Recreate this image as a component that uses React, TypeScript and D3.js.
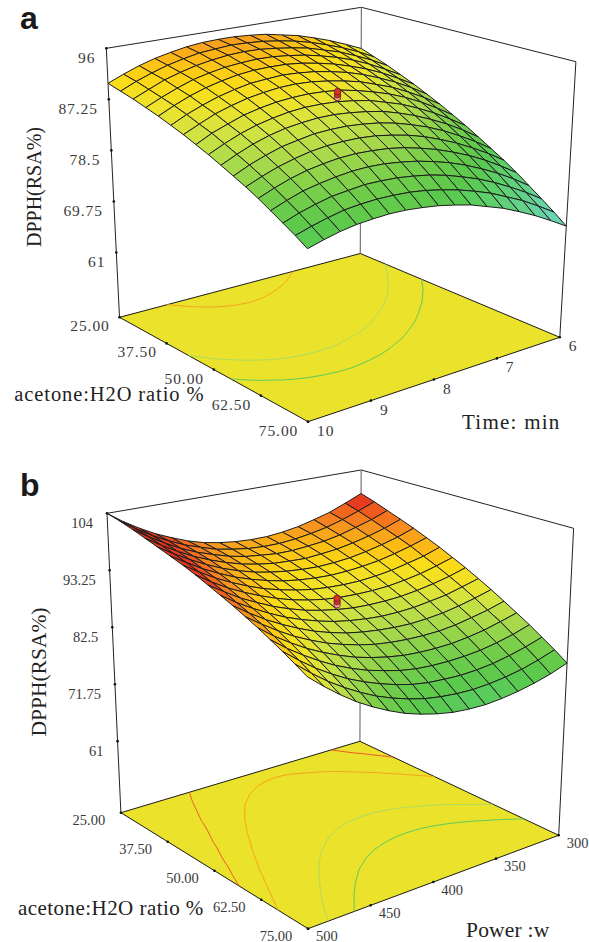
import React from 'react';
import * as d3 from 'd3';

// response surface a: rows are acetone 25..75, columns are time 6..10
const surfaceA = [
  [88.3,89.6,90.8,91.8,92.7,93.3,93.9,94.2,94.4,94.4,94.3,94.0,93.5,92.9,92.1,91.1,90.0],
  [87.4,88.8,90.0,91.0,91.9,92.6,93.1,93.5,93.7,93.8,93.6,93.4,92.9,92.3,91.5,90.6,89.5],
  [86.5,87.9,89.1,90.2,91.0,91.8,92.3,92.7,93.0,93.1,93.0,92.7,92.3,91.7,91.0,90.0,89.0],
  [85.5,86.9,88.2,89.3,90.2,90.9,91.5,91.9,92.2,92.3,92.2,92.0,91.6,91.1,90.3,89.4,88.4],
  [84.5,85.9,87.2,88.3,89.2,90.0,90.6,91.1,91.4,91.5,91.5,91.3,90.9,90.4,89.7,88.8,87.8],
  [83.4,84.9,86.2,87.3,88.3,89.1,89.7,90.2,90.5,90.7,90.6,90.5,90.1,89.6,88.9,88.1,87.1],
  [82.3,83.8,85.1,86.3,87.2,88.1,88.7,89.2,89.6,89.8,89.8,89.6,89.3,88.8,88.2,87.3,86.4],
  [81.1,82.6,84.0,85.2,86.2,87.0,87.7,88.3,88.6,88.8,88.8,88.7,88.4,88.0,87.3,86.6,85.6],
  [79.9,81.4,82.8,84.0,85.1,85.9,86.7,87.2,87.6,87.8,87.9,87.8,87.5,87.1,86.5,85.7,84.8],
  [78.6,80.2,81.6,82.8,83.9,84.8,85.6,86.1,86.5,86.8,86.9,86.8,86.6,86.2,85.6,84.8,83.9],
  [77.3,78.9,80.3,81.6,82.7,83.6,84.4,85.0,85.4,85.7,85.8,85.8,85.5,85.2,84.6,83.9,83.0],
  [76.0,77.6,79.0,80.3,81.4,82.4,83.2,83.8,84.3,84.6,84.7,84.7,84.5,84.1,83.6,82.9,82.1],
  [74.6,76.2,77.7,79.0,80.1,81.1,81.9,82.6,83.1,83.4,83.6,83.6,83.4,83.1,82.6,81.9,81.1],
  [73.1,74.8,76.3,77.6,78.8,79.8,80.6,81.3,81.8,82.2,82.4,82.4,82.2,81.9,81.5,80.8,80.0],
  [71.6,73.3,74.8,76.2,77.4,78.4,79.3,80.0,80.5,80.9,81.1,81.2,81.0,80.8,80.3,79.7,78.9],
  [70.1,71.8,73.4,74.7,76.0,77.0,77.9,78.6,79.2,79.6,79.8,79.9,79.8,79.6,79.1,78.5,77.8],
  [68.5,70.2,71.8,73.2,74.5,75.5,76.5,77.2,77.8,78.2,78.5,78.6,78.5,78.3,77.9,77.3,76.6],
];

// response surface b: rows are acetone 25..75, columns are power 300..500
const surfaceB = [
  [99.1,97.7,96.4,95.5,94.7,94.2,93.9,93.9,94.1,94.5,95.1,96.0,97.2,98.5,100.1,101.9,104.0],
  [98.2,96.8,95.6,94.6,93.9,93.4,93.1,93.1,93.3,93.8,94.4,95.4,96.5,97.9,99.5,101.4,103.5],
  [97.2,95.8,94.7,93.7,93.0,92.6,92.3,92.3,92.6,93.0,93.7,94.7,95.8,97.2,98.9,100.8,102.9],
  [96.2,94.8,93.7,92.8,92.1,91.7,91.4,91.5,91.7,92.2,92.9,93.9,95.1,96.5,98.2,100.1,102.2],
  [95.2,93.8,92.7,91.8,91.1,90.7,90.5,90.6,90.9,91.4,92.1,93.1,94.3,95.8,97.5,99.4,101.5],
  [94.1,92.8,91.7,90.8,90.2,89.8,89.6,89.7,90.0,90.5,91.3,92.3,93.5,95.0,96.7,98.7,100.8],
  [93.0,91.6,90.6,89.7,89.1,88.7,88.6,88.7,89.0,89.6,90.4,91.4,92.7,94.2,95.9,97.9,100.1],
  [91.8,90.5,89.4,88.6,88.0,87.7,87.6,87.7,88.0,88.6,89.4,90.5,91.8,93.3,95.0,97.0,99.3],
  [90.6,89.3,88.3,87.5,86.9,86.6,86.5,86.6,87.0,87.6,88.4,89.5,90.8,92.4,94.1,96.2,98.4],
  [89.3,88.1,87.0,86.3,85.7,85.4,85.3,85.5,85.9,86.5,87.4,88.5,89.8,91.4,93.2,95.2,97.5],
  [88.0,86.8,85.8,85.0,84.5,84.2,84.2,84.4,84.8,85.4,86.3,87.4,88.8,90.4,92.2,94.3,96.6],
  [86.6,85.4,84.5,83.7,83.2,83.0,83.0,83.2,83.6,84.3,85.2,86.3,87.7,89.3,91.2,93.3,95.6],
  [85.2,84.1,83.1,82.4,81.9,81.7,81.7,81.9,82.4,83.1,84.0,85.2,86.6,88.2,90.1,92.2,94.6],
  [83.8,82.6,81.7,81.0,80.6,80.4,80.4,80.6,81.1,81.9,82.8,84.0,85.4,87.1,89.0,91.1,93.5],
  [82.3,81.2,80.3,79.6,79.2,79.0,79.1,79.3,79.8,80.6,81.6,82.8,84.2,85.9,87.8,90.0,92.4],
  [80.8,79.7,78.8,78.2,77.8,77.6,77.7,78.0,78.5,79.3,80.3,81.5,83.0,84.7,86.6,88.8,91.2],
  [79.2,78.1,77.3,76.7,76.3,76.1,76.2,76.5,77.1,77.9,78.9,80.2,81.7,83.4,85.4,87.6,90.0],
];

const ratioTicks = ['25.00', '37.50', '50.00', '62.50', '75.00'];
const timeTicks = ['6', '7', '8', '9', '10'];
const powerTicks = ['300', '350', '400', '450', '500'];
const zTicksA = ['61', '69.75', '78.5', '87.25', '96'];
const zTicksB = ['61', '71.75', '82.5', '93.25', '104'];

// design points, stacked replicates at the centre of each plot
const centerA = [88.3, 88.8, 89.3];
const centerB = [87.9, 88.5, 89.1];

const contourLevelsA = [83.5, 86.5, 93];
const contourLevelsB = [83.5, 87, 93, 96.5];

const colorStops = [68.5, 72, 76, 78, 81, 84, 86.5, 88.5, 90.5, 92.5, 94.5, 96.5, 98, 104];
const colorRange = ['#6ed9c6', '#66d29a', '#5ccf68', '#58c84c', '#74cd4a', '#a9d94c', '#d0e342', '#eee32c', '#fbdc18', '#fdbf14', '#f7981e', '#f26a1f', '#e63a20', '#d42a18'];
const surfaceColor = d3.scaleLinear<string>().domain(colorStops).range(colorRange);
const contourColor = d3.scaleThreshold<number, string>().domain([85, 90, 95]).range(['#5cca5e', '#a9dc62', '#f9a020', '#f0562a']);

const serif = '"Liberation Serif", "Times New Roman", serif';
const FLOOR_COLOR = '#ebe22c';
const SAG = 8; // the box is in perspective, its middle sits higher than the corners say

type Pt = [number, number];
type Box = { back: Pt; right: Pt; front: Pt; left: Pt };

const mix = (p: Pt, q: Pt, t: number): Pt => [p[0] + (q[0] - p[0]) * t, p[1] + (q[1] - p[1]) * t];

// position inside a four cornered box face; u runs along the ratio, v along the other factor
const onFace = (f: Box, u: number, v: number): Pt => mix(mix(f.back, f.right, u), mix(f.left, f.front, u), v);

const linePath = d3.line<Pt>();

// contour lines of the grid, with the parts d3 closes along the border removed
function contourArcs(grid: number[][], level: number): Pt[][] {
  const n = grid.length;
  const generator = d3.contours().size([n, n]).smooth(true);
  const shape = generator.contour(grid.flat(), level);
  const arcs: Pt[][] = [];
  const onBorder = (p: number[]) => p[0] <= 0 || p[1] <= 0 || p[0] >= n || p[1] >= n;
  shape.coordinates.forEach(poly => poly.forEach(ring => {
    const pts = ring.slice(0, -1);
    const start = pts.findIndex(onBorder);
    const ordered = start < 0 ? pts : [...pts.slice(start), ...pts.slice(0, start)];
    let arc: Pt[] = [];
    ordered.forEach(p => {
      if (onBorder(p)) {
        if (arc.length > 1) arcs.push(arc);
        arc = [];
      } else {
        arc.push([(p[1] - 0.5) / (n - 1), (p[0] - 0.5) / (n - 1)]);
      }
    });
    if (arc.length > 1) arcs.push(arc);
  }));
  return arcs;
}

type PanelProps = {
  letter: string;
  letterY: number;
  floor: Box;
  top: Box;
  grid: number[][];
  zFloor: number;
  zTicks: string[];
  sideTicks: string[];
  center: number[];
  levels: number[];
  tickSize: number;
  tickSpacing: number;
  zLabelDx: number;
  ratioLabelDx: number;
  sideLabelDx: number;
  floorLabelDy: number;
  yTitle: { x: number; y: number; size: number; spacing: number };
  ratioTitle: { x: number; y: number; size: number; spacing: number };
  sideTitle: { text: string; x: number; y: number; size: number; spacing: number };
};

function Panel(p: PanelProps) {
  const n = p.grid.length;
  const idx = d3.scaleLinear().domain([0, n - 1]).range([0, 1]);
  const zTop = +p.zTicks[p.zTicks.length - 1];
  const zScale = d3.scaleLinear().domain([p.zFloor, zTop]).range([0, 1]);
  const ratioScale = d3.scalePoint<string>().domain(ratioTicks).range([0, 1]);
  const sideScale = d3.scalePoint<string>().domain(p.sideTicks).range([0, 1]);

  const project = (u: number, v: number, z: number): Pt => {
    const pt = mix(onFace(p.floor, u, v), onFace(p.top, u, v), zScale(z));
    return [pt[0], pt[1] - SAG * 16 * u * (1 - u) * v * (1 - v)];
  };

  // cells are painted from the back corner forwards
  const cells: { d: string; fill: string }[] = [];
  for (let i = 0; i < n - 1; i++) {
    for (let j = 0; j < n - 1; j++) {
      const corners: [number, number][] = [[i, j], [i + 1, j], [i + 1, j + 1], [i, j + 1]];
      const pts = corners.map(([a, b]) => project(idx(a), idx(b), p.grid[a][b]));
      const mean = d3.mean(corners, ([a, b]) => p.grid[a][b]) as number;
      cells.push({ d: linePath(pts) + 'Z', fill: surfaceColor(mean) });
    }
  }

  const arcs = p.levels.flatMap(level => contourArcs(p.grid, level).map(arc => ({ level, arc })));
  const floorCurve = d3.line<Pt>().x(d => onFace(p.floor, d[0], d[1])[0]).y(d => onFace(p.floor, d[0], d[1])[1]).curve(d3.curveCatmullRom);

  const { floor, top } = p;
  const labelStyle = { fontFamily: serif, fontSize: p.tickSize, letterSpacing: p.tickSpacing, fill: '#3a3a3a' };

  return (
    <g>
      <text x={20} y={p.letterY} fontFamily='"Liberation Sans", Arial, sans-serif' fontWeight="bold" fontSize={32} fill="#1a1a1a">{p.letter}</text>

      {/* back wall */}
      <path d={linePath([top.left, top.back, top.right])!} fill="none" stroke="#222" strokeWidth={1} />
      <path d={linePath([top.back, floor.back])!} fill="none" stroke="#777" strokeWidth={1.2} />
      <path d={linePath([top.left, floor.left])!} fill="none" stroke="#222" strokeWidth={1} />
      <path d={linePath([top.right, floor.right])!} fill="none" stroke="#222" strokeWidth={1} />

      {/* floor with contours */}
      <path d={linePath([floor.back, floor.right, floor.front, floor.left])! + 'Z'} fill={FLOOR_COLOR} stroke="#1a1a1a" strokeWidth={1} />
      {arcs.map((c, i) => (
        <path key={i} d={floorCurve(c.arc)!} fill="none" stroke={contourColor(c.level)} strokeWidth={1} />
      ))}

      {/* ticks and labels */}
      {p.zTicks.map(t => {
        const [x, y] = mix(floor.left, top.left, zScale(+t));
        return (
          <g key={t}>
            <circle cx={x} cy={y} r={1.3} fill="#111" />
            <text {...labelStyle} x={x + p.zLabelDx} y={y + 14.5} textAnchor="end">{t}</text>
          </g>
        );
      })}
      {ratioTicks.map(t => {
        const [x, y] = onFace(floor, ratioScale(t)!, 1);
        return (
          <g key={t}>
            <circle cx={x} cy={y} r={1.3} fill="#111" />
            <text {...labelStyle} x={x + p.ratioLabelDx} y={y + p.floorLabelDy} textAnchor="middle">{t}</text>
          </g>
        );
      })}
      {p.sideTicks.map(t => {
        const [x, y] = onFace(floor, 1, sideScale(t)!);
        return (
          <g key={t}>
            <circle cx={x} cy={y} r={1.3} fill="#111" />
            <text {...labelStyle} x={x + p.sideLabelDx} y={y + p.floorLabelDy} textAnchor="start">{t}</text>
          </g>
        );
      })}

      {/* surface */}
      {cells.map((c, i) => (
        <path key={i} d={c.d} fill={c.fill} stroke="#1c1c1c" strokeWidth={1} strokeLinejoin="round" />
      ))}

      {/* design points */}
      {p.center.map((z, i) => {
        const [x, y] = project(0.5, 0.5, z);
        return <circle key={z} cx={x} cy={y} r={3.3} fill={i === 0 ? '#e79aa0' : '#d8322a'} stroke="#5a1712" strokeWidth={0.7} />;
      })}

      <text transform={`translate(${p.yTitle.x},${p.yTitle.y}) rotate(-90)`} textAnchor="middle" fontFamily={serif} fontSize={p.yTitle.size} letterSpacing={p.yTitle.spacing} fill="#222">DPPH(RSA%)</text>
      <text x={p.ratioTitle.x} y={p.ratioTitle.y} fontFamily={serif} fontSize={p.ratioTitle.size} letterSpacing={p.ratioTitle.spacing} fill="#222">acetone:H2O ratio %</text>
      <text x={p.sideTitle.x} y={p.sideTitle.y} fontFamily={serif} fontSize={p.sideTitle.size} letterSpacing={p.sideTitle.spacing} fill="#222">{p.sideTitle.text}</text>
    </g>
  );
}

export default function App() {
  return (
    <svg width={589} height={942} style={{ position: 'absolute', left: 0, top: 0, display: 'block', background: '#fff' }}>
      <Panel
        letter="a"
        letterY={29}
        floor={{ back: [360.3, 253.5], right: [559.8, 337.3], front: [308, 421.7], left: [119.5, 317.3] }}
        top={{ back: [361.4, 7.3], right: [575.9, 61.7], front: [307.1, 123], left: [106.3, 48.3] }}
        grid={surfaceA}
        zFloor={49.9}
        zTicks={zTicksA}
        sideTicks={timeTicks}
        center={centerA}
        levels={contourLevelsA}
        tickSize={15.5}
        tickSpacing={0.9}
        zLabelDx={-11}
        ratioLabelDx={-29.5}
        sideLabelDx={9}
        floorLabelDy={14}
        yTitle={{ x: 41, y: 187, size: 20, spacing: 0 }}
        ratioTitle={{ x: 14.3, y: 401, size: 20.5, spacing: 0.9 }}
        sideTitle={{ text: 'Time: min', x: 462, y: 429, size: 21, spacing: 1.25 }}
      />
      <Panel
        letter="b"
        letterY={496}
        floor={{ back: [359.9, 741.3], right: [558.7, 835.3], front: [308, 928.7], left: [120.9, 812.7] }}
        top={{ back: [361.2, 470], right: [573.6, 528.3], front: [307.1, 593.7], left: [107, 513.3] }}
        grid={surfaceB}
        zFloor={47.5}
        zTicks={zTicksB}
        sideTicks={powerTicks}
        center={centerB}
        levels={contourLevelsB}
        tickSize={14.5}
        tickSpacing={0}
        zLabelDx={-14}
        ratioLabelDx={-32}
        sideLabelDx={8}
        floorLabelDy={12.6}
        yTitle={{ x: 46, y: 672, size: 21.5, spacing: 0 }}
        ratioTitle={{ x: 18, y: 914.7, size: 21, spacing: 0.45 }}
        sideTitle={{ text: 'Power :w', x: 466, y: 937, size: 21.5, spacing: 0.2 }}
      />
    </svg>
  );
}
